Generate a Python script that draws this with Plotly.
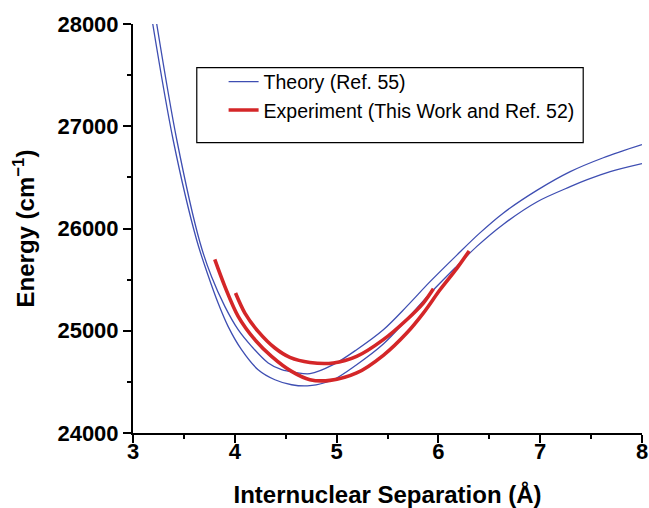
import plotly.graph_objects as go

# Theory (Ref. 55): two computed potential curves
theory_a_x = [3.194, 3.394, 3.624, 3.738, 3.836, 3.934, 4.066, 4.229, 4.394, 4.558, 4.738,
              4.967, 5.197, 5.459, 5.689, 5.918, 6.181, 6.378, 6.636, 6.971, 7.295, 7.462, 7.688, 8.0]
theory_a_y = [28000, 26868, 25892, 25540, 25271, 25043, 24815, 24619, 24521, 24472, 24463,
              24521, 24668, 24870, 25110, 25365, 25632, 25825, 26040, 26262, 26409, 26477, 26556, 26634]

theory_b_x = [3.233, 3.430, 3.656, 3.771, 3.902, 4.033, 4.165, 4.328, 4.460, 4.590, 4.738,
              4.967, 5.197, 5.459, 5.689, 5.918, 6.181, 6.400, 6.636, 6.971, 7.295, 7.620, 8.0]
theory_b_y = [28000, 26868, 25870, 25530, 25238, 25010, 24847, 24685, 24619, 24593, 24580,
              24668, 24815, 25010, 25238, 25480, 25740, 25950, 26150, 26375, 26556, 26692, 26820]

# Experiment (This Work and Ref. 52)
exp_a_x = [3.803, 3.902, 4.033, 4.197, 4.361, 4.558, 4.738, 4.935, 5.197, 5.459, 5.689,
           5.852, 6.016, 6.181, 6.302]
exp_a_y = [25697, 25434, 25141, 24913, 24750, 24603, 24522, 24515, 24587, 24760, 24978,
           25173, 25401, 25610, 25780]

exp_b_x = [4.007, 4.099, 4.229, 4.394, 4.541, 4.738, 4.967, 5.197, 5.459, 5.689, 5.852, 5.951]
exp_b_y = [25369, 25173, 24994, 24831, 24740, 24690, 24685, 24749, 24913, 25108, 25271, 25410]

x_ticks = [3, 4, 5, 6, 7, 8]
y_ticks = [24000, 25000, 26000, 27000, 28000]

BLUE = "rgb(62,78,178)"
RED = "rgb(212,38,40)"
FONT = "Liberation Sans, Arial, sans-serif"

fig = go.Figure()
fig.add_trace(go.Scatter(x=theory_a_x, y=theory_a_y, mode="lines", name="Theory (Ref. 55)",
                         line=dict(color=BLUE, width=1.3, shape="spline", smoothing=0.9),
                         legendgroup="t", showlegend=True))
fig.add_trace(go.Scatter(x=theory_b_x, y=theory_b_y, mode="lines", name="Theory (Ref. 55)",
                         line=dict(color=BLUE, width=1.3, shape="spline", smoothing=0.9),
                         legendgroup="t", showlegend=False))
fig.add_trace(go.Scatter(x=exp_a_x, y=exp_a_y, mode="lines", name="Experiment (This Work and Ref. 52)",
                         line=dict(color=RED, width=3.6, shape="spline", smoothing=0.9),
                         legendgroup="e", showlegend=True))
fig.add_trace(go.Scatter(x=exp_b_x, y=exp_b_y, mode="lines", name="Experiment (This Work and Ref. 52)",
                         line=dict(color=RED, width=3.6, shape="spline", smoothing=0.9),
                         legendgroup="e", showlegend=False))

fig.update_layout(
    width=649, height=508,
    margin=dict(l=133, r=7, t=24, b=75, autoexpand=False),
    paper_bgcolor="white", plot_bgcolor="white",
    font=dict(family=FONT, color="black"),
    showlegend=True,
    legend=dict(x=0.178, y=0.906, xanchor="left", yanchor="top",
                bgcolor="rgba(0,0,0,0)", borderwidth=0,
                font=dict(family=FONT, size=19.5, color="black"),
                tracegroupgap=0),
    shapes=[dict(type="rect", xref="paper", yref="paper",
                 x0=0.1253, x1=0.8845, y0=0.7098, y1=0.8931,
                 line=dict(color="black", width=1.2), fillcolor="rgba(0,0,0,0)")],
)

fig.update_xaxes(
    range=[3, 8], tickvals=x_ticks, ticktext=[str(v) for v in x_ticks],
    automargin=False,
    showline=True, linecolor="black", linewidth=2, mirror=False,
    showgrid=False, zeroline=False,
    ticks="outside", ticklen=8, tickwidth=2, tickcolor="black",
    ticklabelstandoff=-10,
    tickfont=dict(family=FONT, size=22, color="black", weight="bold"),
    minor=dict(dtick=0.5, ticks="outside", ticklen=4, tickwidth=1.5, tickcolor="black", showgrid=False),
    title=dict(text="Internuclear Separation (Å)", standoff=24,
               font=dict(family=FONT, size=24, color="black", weight="bold")),
)
fig.update_yaxes(
    range=[24000, 28000], tickvals=y_ticks, ticktext=[str(v) for v in y_ticks],
    automargin=False,
    showline=True, linecolor="black", linewidth=2, mirror=False,
    showgrid=False, zeroline=False,
    ticks="outside", ticklen=8, tickwidth=2, tickcolor="black",
    tickfont=dict(family=FONT, size=22, color="black", weight="bold"),
    minor=dict(dtick=500, ticks="outside", ticklen=4, tickwidth=1.5, tickcolor="black", showgrid=False),
    title=dict(text="Energy (cm<sup>−1</sup>)", standoff=16,
               font=dict(family=FONT, size=24, color="black", weight="bold")),
)

fig.write_html("out.html")
